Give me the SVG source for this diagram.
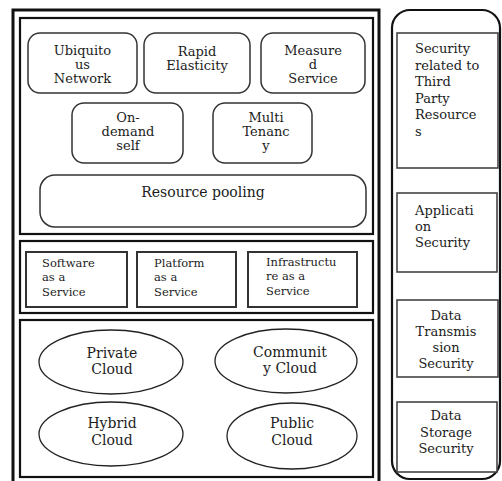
<svg xmlns="http://www.w3.org/2000/svg" width="502" height="481" viewBox="0 0 502 481">
<style>
text{font-family:"DejaVu Serif","Liberation Serif",serif;fill:#1c1c1c}
.t13{font-size:13px}
.t14{font-size:14px}
.t11{font-size:11.5px}
.c{text-anchor:middle}
.panel{fill:none;stroke:#111;stroke-width:2.2}
.rnode{fill:#fff;stroke:#333;stroke-width:1.5}
.box{fill:#fff;stroke:#333;stroke-width:2}
.ell{fill:#fff;stroke:#222;stroke-width:1.3}
.sec{fill:#fff;stroke:#444;stroke-width:1.6}
</style>
<rect width="502" height="481" fill="#fff"/>
<g id="outer">
<rect x="13" y="10" width="366" height="480" fill="none" stroke="#111" stroke-width="3"/>
</g>
<g id="panel-characteristics">
<rect class="panel" x="20" y="18" width="353" height="216"/>
</g>
<g id="panel-services">
<rect class="panel" x="20" y="241" width="353" height="72"/>
</g>
<g id="panel-deployment">
<rect class="panel" x="20" y="320" width="353" height="157"/>
</g>
<g id="security-container">
<rect x="392" y="10" width="108" height="469" rx="18" fill="none" stroke="#111" stroke-width="2.2"/>
</g>
<g id="ubiquitous">
<rect class="rnode" x="28" y="33" width="109" height="60" rx="12"/>
<text class="t13 c" x="82.5" y="55">Ubiquito</text>
<text class="t13 c" x="82.5" y="69">us</text>
<text class="t13 c" x="82.5" y="83">Network</text>
</g>
<g id="rapid">
<rect class="rnode" x="144" y="33" width="106" height="60" rx="12"/>
<text class="t13 c" x="197" y="56">Rapid</text>
<text class="t13 c" x="197" y="70">Elasticity</text>
</g>
<g id="measured">
<rect class="rnode" x="261" y="33" width="104" height="60" rx="12"/>
<text class="t13 c" x="313" y="55">Measure</text>
<text class="t13 c" x="313" y="69">d</text>
<text class="t13 c" x="313" y="83">Service</text>
</g>
<g id="ondemand">
<rect class="rnode" x="72" y="103" width="111" height="60" rx="12"/>
<text class="t13 c" x="128" y="122">On-</text>
<text class="t13 c" x="128" y="136">demand</text>
<text class="t13 c" x="128" y="150">self</text>
</g>
<g id="multitenancy">
<rect class="rnode" x="213" y="103" width="99" height="60" rx="12"/>
<text class="t13 c" x="266" y="122">Multi</text>
<text class="t13 c" x="266" y="136">Tenanc</text>
<text class="t13 c" x="266" y="150">y</text>
</g>
<g id="pooling">
<rect class="rnode" x="40" y="175" width="326" height="52" rx="15"/>
<text class="t14 c" x="203" y="197">Resource pooling</text>
</g>
<g id="saas">
<rect class="box" x="26" y="252" width="101" height="55"/>
<text class="t11" x="42" y="267">Software</text>
<text class="t11" x="42" y="281">as a</text>
<text class="t11" x="42" y="296">Service</text>
</g>
<g id="paas">
<rect class="box" x="137" y="252" width="99" height="55"/>
<text class="t11" x="154" y="267">Platform</text>
<text class="t11" x="154" y="281">as a</text>
<text class="t11" x="154" y="296">Service</text>
</g>
<g id="iaas">
<rect class="box" x="248" y="252" width="109" height="55"/>
<text class="t11" x="266" y="266">Infrastructu</text>
<text class="t11" x="266" y="280">re as a</text>
<text class="t11" x="266" y="295">Service</text>
</g>
<g id="private">
<ellipse class="ell" cx="111" cy="362" rx="72" ry="32"/>
<text class="t14 c" x="112" y="358">Private</text>
<text class="t14 c" x="112" y="374">Cloud</text>
</g>
<g id="community">
<ellipse class="ell" cx="286" cy="361" rx="71" ry="32"/>
<text class="t14 c" x="290" y="357">Communit</text>
<text class="t14 c" x="290" y="373">y Cloud</text>
</g>
<g id="hybrid">
<ellipse class="ell" cx="111" cy="434" rx="72" ry="32"/>
<text class="t14 c" x="112" y="428">Hybrid</text>
<text class="t14 c" x="112" y="445">Cloud</text>
</g>
<g id="public">
<ellipse class="ell" cx="292" cy="436" rx="65" ry="33"/>
<text class="t14 c" x="292" y="428">Public</text>
<text class="t14 c" x="292" y="445">Cloud</text>
</g>
<g id="sec-third-party">
<rect class="sec" x="397" y="33" width="101" height="135"/>
<text class="t13" x="415" y="53">Security</text>
<text class="t13" x="415" y="69.5">related to</text>
<text class="t13" x="415" y="86">Third</text>
<text class="t13" x="415" y="102.5">Party</text>
<text class="t13" x="415" y="119">Resource</text>
<text class="t13" x="415" y="135.5">s</text>
</g>
<g id="sec-application">
<rect class="sec" x="397" y="193" width="100" height="79"/>
<text class="t13" x="415" y="215">Applicati</text>
<text class="t13" x="415" y="231">on</text>
<text class="t13" x="415" y="247">Security</text>
</g>
<g id="sec-transmission">
<rect class="sec" x="397" y="300" width="101" height="77"/>
<text class="t13 c" x="446" y="320">Data</text>
<text class="t13 c" x="446" y="336">Transmis</text>
<text class="t13 c" x="446" y="352">sion</text>
<text class="t13 c" x="446" y="368">Security</text>
</g>
<g id="sec-storage">
<rect class="sec" x="397" y="402" width="100" height="70"/>
<text class="t13 c" x="446" y="420">Data</text>
<text class="t13 c" x="446" y="437">Storage</text>
<text class="t13 c" x="446" y="453">Security</text>
</g>
</svg>
